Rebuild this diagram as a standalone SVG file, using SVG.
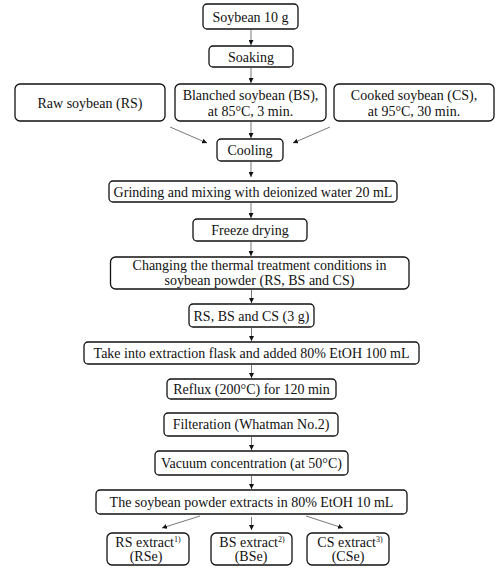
<svg xmlns="http://www.w3.org/2000/svg" width="503" height="573" viewBox="0 0 503 573">
<defs>
<marker id="ah" viewBox="0 0 6 6" refX="6" refY="3" markerWidth="5" markerHeight="5" markerUnits="userSpaceOnUse" orient="auto">
<path d="M0,0 L6,3 L0,6 Z" fill="#111"/>
</marker>
</defs>
<style>
rect{fill:#fff;stroke:#111;stroke-width:1.3}
text{font-family:"Liberation Serif","Times New Roman",serif;font-size:14px;fill:#111;text-anchor:middle}
.sup{font-size:8px}
#connectors line{stroke:#555;stroke-width:0.8;marker-end:url(#ah)}
</style>
<rect x="0" y="0" width="503" height="573" style="fill:#fff;stroke:none"/>
<g id="n1"><rect x="203" y="4" width="95" height="25" rx="4"/><text x="250.5" y="21.5">Soybean 10 g</text></g>
<g id="n2"><rect x="209" y="46" width="84" height="21" rx="4"/><text x="251" y="61.5">Soaking</text></g>
<g id="n3"><rect x="15" y="84" width="150" height="37" rx="5"/><text x="90" y="107.5">Raw soybean (RS)</text></g>
<g id="n4"><rect x="175" y="84" width="151" height="37" rx="5"/><text x="250.5" y="99.5">Blanched soybean (BS),</text><text x="250.5" y="116">at 85°C, 3 min.</text></g>
<g id="n5"><rect x="334" y="84" width="160" height="37" rx="5"/><text x="414" y="99.5">Cooked soybean (CS),</text><text x="414" y="116">at 95°C, 30 min.</text></g>
<g id="n6"><rect x="217" y="139" width="66" height="22" rx="4"/><text x="250" y="155">Cooling</text></g>
<g id="n7"><rect x="109" y="181" width="288" height="21" rx="4"/><text x="253" y="196.5">Grinding and mixing with deionized water 20 mL</text></g>
<g id="n8"><rect x="193" y="219" width="114" height="22" rx="4"/><text x="250" y="235">Freeze drying</text></g>
<g id="n9"><rect x="110.5" y="257" width="298.5" height="32" rx="5"/><text x="259.5" y="270">Changing the thermal treatment conditions in</text><text x="259.5" y="285">soybean powder (RS, BS and CS)</text></g>
<g id="n10"><rect x="189" y="304" width="125" height="23" rx="4"/><text x="251.5" y="320.5">RS, BS and CS (3 g)</text></g>
<g id="n11"><rect x="84" y="342" width="335" height="22" rx="4"/><text x="251.5" y="358">Take into extraction  flask and added 80% EtOH 100 mL</text></g>
<g id="n12"><rect x="167" y="379" width="169" height="20" rx="4"/><text x="251.5" y="394">Reflux (200°C) for 120 min</text></g>
<g id="n13"><rect x="164" y="413" width="174" height="23" rx="4"/><text x="251" y="429">Filteration (Whatman No.2)</text></g>
<g id="n14"><rect x="155" y="451" width="193" height="24" rx="4"/><text x="251.5" y="468">Vacuum concentration (at 50°C)</text></g>
<g id="n15"><rect x="96" y="490" width="311" height="24" rx="4"/><text x="251.5" y="507">The soybean powder extracts in 80% EtOH 10 mL</text></g>
<g id="n16"><rect x="107" y="533" width="82" height="32" rx="5"/><text x="148" y="547">RS extract<tspan class="sup" dy="-5">1)</tspan></text><text x="146" y="561">(RSe)</text></g>
<g id="n17"><rect x="211" y="533" width="81" height="32" rx="5"/><text x="252" y="547">BS extract<tspan class="sup" dy="-5">2)</tspan></text><text x="251" y="561">(BSe)</text></g>
<g id="n18"><rect x="307" y="533" width="82" height="32" rx="5"/><text x="350" y="547">CS extract<tspan class="sup" dy="-5">3)</tspan></text><text x="348" y="561">(CSe)</text></g>
<g id="connectors">
<line x1="251" y1="30" x2="251" y2="45"/>
<line x1="251" y1="67" x2="251" y2="83"/>
<line x1="170" y1="127" x2="207" y2="143"/>
<line x1="251" y1="122" x2="251" y2="138"/>
<line x1="330" y1="127" x2="293" y2="143"/>
<line x1="251" y1="162" x2="251" y2="177"/>
<line x1="251" y1="203" x2="251" y2="218"/>
<line x1="251" y1="242" x2="251" y2="256"/>
<line x1="251.5" y1="290" x2="251.5" y2="303"/>
<line x1="251.5" y1="328" x2="251.5" y2="341"/>
<line x1="251.5" y1="365" x2="251.5" y2="378"/>
<line x1="251.5" y1="437" x2="251.5" y2="450"/>
<line x1="251.5" y1="476" x2="251.5" y2="489"/>
<line x1="200" y1="516" x2="162" y2="528"/>
<line x1="251.5" y1="517" x2="251.5" y2="530"/>
<line x1="306" y1="516" x2="343" y2="528"/>
</g>
</svg>
